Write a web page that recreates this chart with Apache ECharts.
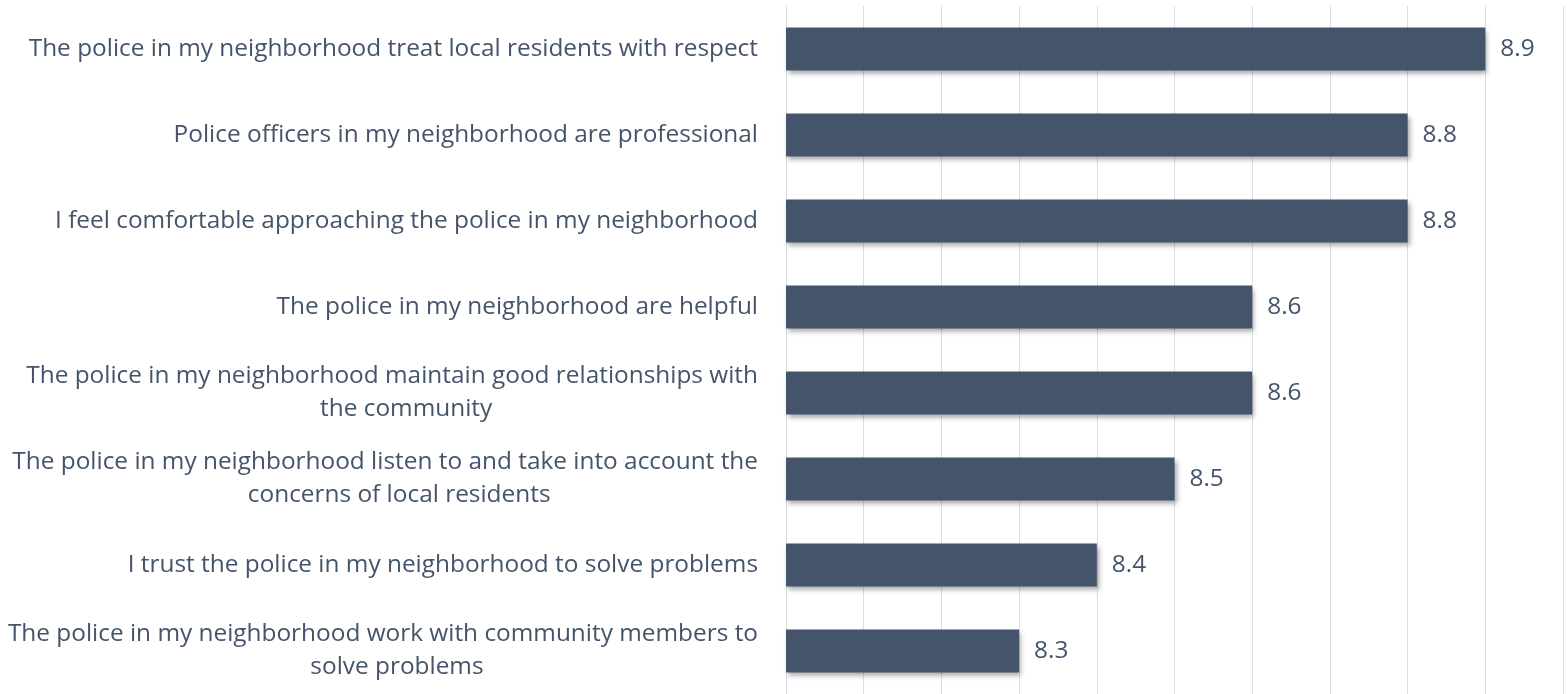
<!DOCTYPE html>
<html>
<head>
<meta charset="utf-8">
<script src="https://cdn.jsdelivr.net/npm/echarts@6/dist/echarts.min.js"></script>
<style>
  html, body { margin: 0; padding: 0; background: #ffffff; }
  #chart { width: 1567px; height: 694px; }
</style>
</head>
<body>
<div id="chart"></div>
<script>
// Survey statements (top to bottom) and their mean scores
const categories = [
  'The police in my neighborhood treat local residents with respect',
  'Police officers in my neighborhood are professional',
  'I feel comfortable approaching the police in my neighborhood',
  'The police in my neighborhood are helpful',
  'The police in my neighborhood maintain good relationships with\nthe community',
  'The police in my neighborhood listen to and take into account the\nconcerns of local residents',
  'I trust the police in my neighborhood to solve problems',
  'The police in my neighborhood work with community members to\nsolve problems'
];
const scores = [8.9, 8.8, 8.8, 8.6, 8.6, 8.5, 8.4, 8.3];

// Value axis range
const axisMin = 8.0;
const axisMax = 9.0;
const axisStep = 0.1;

const FONT = '"Open Sans", "Noto Sans", sans-serif';
const FONT_SIZE = 24.4;
const LINE_HEIGHT = 33;
const TEXT_COLOR = '#44546A';
const BAR_COLOR = '#44546A';

const labelText = {
  align: 'center',
  fontFamily: FONT,
  fontSize: FONT_SIZE,
  lineHeight: LINE_HEIGHT,
  color: TEXT_COLOR
};

const chart = echarts.init(document.getElementById('chart'), null, { renderer: 'canvas' });

chart.setOption({
  animation: false,
  backgroundColor: '#ffffff',
  grid: { left: 786, right: 4, top: 6, bottom: 0, containLabel: false },
  xAxis: {
    type: 'value',
    min: axisMin,
    max: axisMax,
    interval: axisStep,
    axisLabel: { show: false },
    axisLine: { show: false },
    axisTick: { show: false },
    splitLine: { show: true, lineStyle: { color: '#dadee5', width: 1 } }
  },
  yAxis: {
    type: 'category',
    inverse: true,
    data: categories,
    axisLine: { show: false },
    axisTick: { show: false },
    axisLabel: {
      interval: 0,
      margin: 28,
      align: 'right',
      // wrapped statements: lines centred on each other, block right-aligned
      formatter: function (value) {
        return value.split('\n').map(function (line, i) {
          return (i === 0 ? '{c|' : '{w|') + line + '}';
        }).join('\n');
      },
      rich: {
        c: labelText,
        w: Object.assign({}, labelText, { padding: [0, 0, 0, 28] })
      }
    }
  },
  series: [{
    type: 'bar',
    data: scores,
    barWidth: '50%',
    itemStyle: {
      color: BAR_COLOR,
      shadowColor: 'rgba(0, 0, 0, 0.35)',
      shadowBlur: 5,
      shadowOffsetX: 2,
      shadowOffsetY: 3
    },
    label: {
      show: true,
      position: 'right',
      distance: 15,
      fontFamily: FONT,
      fontSize: FONT_SIZE,
      color: TEXT_COLOR,
      formatter: function (p) { return p.value.toFixed(1); }
    }
  }]
});
</script>
</body>
</html>
